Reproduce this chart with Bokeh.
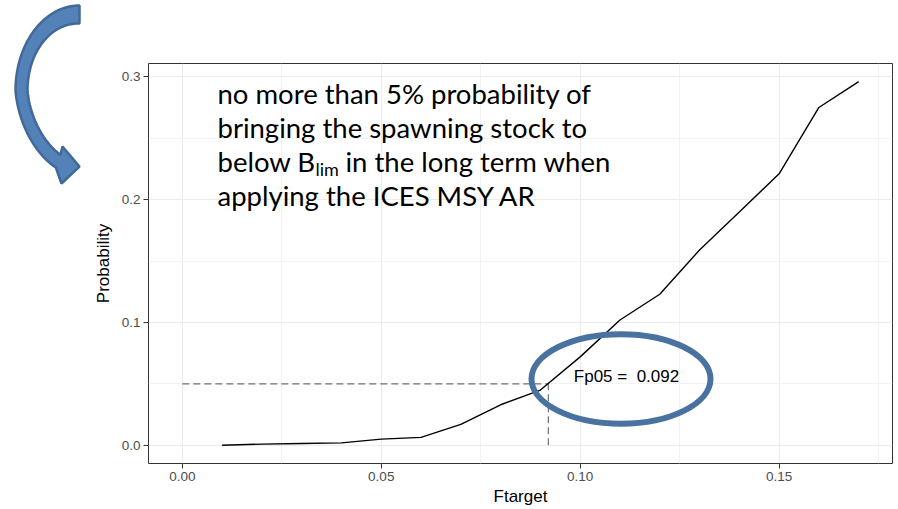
import numpy as np
from bokeh.plotting import figure
from bokeh.layouts import row
from bokeh.models import Range1d, FixedTicker, PrintfTickFormatter, Label
from bokeh.embed import file_html
from bokeh.resources import INLINE

# ---- data ----
ftarget = [0.01, 0.02, 0.03, 0.04, 0.05, 0.06, 0.07, 0.08, 0.09,
           0.10, 0.11, 0.12, 0.13, 0.14, 0.15, 0.16, 0.17]
probability = [0.000, 0.001, 0.0015, 0.002, 0.005, 0.0065, 0.017, 0.033, 0.045,
               0.072, 0.102, 0.123, 0.159, 0.190, 0.221, 0.275, 0.296]
fp05 = 0.092
p_limit = 0.05
x_ticks = [0.00, 0.05, 0.10, 0.15]
y_ticks = [0.0, 0.1, 0.2, 0.3]
fp_label = "Fp05 =\u00a0 0.092"
note_lines = ["no more than 5% probability of",
              "bringing the spawning stock to",
              "below B", "lim", "in the long term when",
              "applying the ICES MSY AR"]

def minors(t):
    step = t[1] - t[0]
    return [v + step / 2 for v in t] + [t[0] - step / 2]

# ---- layout geometry (pixels, page coordinates) ----
H = 508
AW = 90                      # width of the left strip holding the arrow
W = 896 - AW                 # main figure width
FL, FR, FT, FB = 148, 892, 63, 465
x0, x1 = -0.0085, 0.1785
y0, y1 = -0.0148, 0.3108
sx = (FR - FL) / (x1 - x0)
sy = (FB - FT) / (y1 - y0)

def dx(px):
    return x0 + (px - FL) / sx

def dy(py):
    return y1 - (py - FT) / sy

p = figure(width=W, height=H,
           x_range=Range1d(x0, x1), y_range=Range1d(y0, y1),
           output_backend="svg", toolbar_location=None,
           min_border_left=FL - AW, min_border_right=AW + W - FR, min_border_top=FT,
           min_border_bottom=H - FB,
           x_axis_label="Ftarget", y_axis_label="Probability")
p.background_fill_color = "white"
p.border_fill_color = "white"
p.outline_line_color = "#333333"
p.outline_line_width = 1

p.xaxis.ticker = FixedTicker(ticks=x_ticks, minor_ticks=minors(x_ticks))
p.yaxis.ticker = FixedTicker(ticks=y_ticks, minor_ticks=minors(y_ticks))
p.xaxis.formatter = PrintfTickFormatter(format="%.2f")
p.yaxis.formatter = PrintfTickFormatter(format="%.1f")
for ax in (p.xaxis, p.yaxis):
    ax.axis_line_color = None
    ax.major_tick_line_color = "#333333"
    ax.major_tick_out = 5
    ax.major_tick_in = 0
    ax.minor_tick_line_color = None
    ax.major_label_text_font = "Liberation Sans"
    ax.major_label_text_font_size = "13.5px"
    ax.major_label_text_color = "#4d4d4d"
    ax.major_label_standoff = 3
    ax.axis_label_text_font = "Liberation Sans"
    ax.axis_label_text_font_size = "17px"
    ax.axis_label_text_font_style = "normal"
    ax.axis_label_text_color = "black"
p.xaxis.axis_label_standoff = 3
p.yaxis.axis_label_standoff = 6

for g in (p.xgrid, p.ygrid):
    g.grid_line_color = "#ebebeb"
    g.grid_line_width = 1
    g.minor_grid_line_color = "#f2f2f2"
    g.minor_grid_line_width = 1

p.segment(x0=[0, fp05], y0=[p_limit, 0], x1=[fp05, fp05], y1=[p_limit, p_limit],
          line_color="#707070", line_width=1.2, line_dash="7 4")
p.line(ftarget, probability, line_color="black", line_width=1.4)

# highlight ellipse around the Fp05 annotation
p.ellipse(x=[dx(620.5)], y=[dy(380)], width=179 / sx, height=90 / sy,
          fill_color=None, line_color="#4a72a0", line_width=6)

p.add_layout(Label(x=dx(626), y=dy(378), text=fp_label, text_align="center",
                   text_baseline="middle", text_font="Liberation Sans",
                   text_font_size="17px", text_color="black"))

# ---- slide note text ----
fs = "27.5px"
tx = dx(217)
base_px = [93.5, 127.5, 161.5, 195.5]
common = dict(text_font="Lato", text_color="black", text_baseline="alphabetic")
p.add_layout(Label(x=tx, y=dy(base_px[0]), text=note_lines[0], text_font_size=fs, **common))
p.add_layout(Label(x=tx, y=dy(base_px[1]), text=note_lines[1], text_font_size=fs, **common))
p.add_layout(Label(x=tx, y=dy(base_px[2]), text=note_lines[2], text_font_size=fs, **common))
p.add_layout(Label(x=dx(315), y=dy(base_px[2] + 8), text=note_lines[3],
                   text_font_size="18px", **common))
p.add_layout(Label(x=dx(345), y=dy(base_px[2]), text=note_lines[4], text_font_size=fs, **common))
p.add_layout(Label(x=tx, y=dy(base_px[3]), text=note_lines[5], text_font_size=fs, **common))

# ---- decorative curved arrow (left strip, pixel coordinates) ----
a_fig = figure(width=AW, height=H, x_range=Range1d(0, AW), y_range=Range1d(H, 0),
               output_backend="svg", toolbar_location=None,
               x_axis_type=None, y_axis_type=None, min_border=0)
a_fig.frame_align = False
a_fig.outline_line_color = None
a_fig.grid.visible = False
a_fig.background_fill_color = "white"
a_fig.border_fill_color = "white"

cx, cy = 79.0, 90.0
th_e = np.deg2rad(155)
th = np.linspace(0, th_e, 80)
lower = np.clip((th - np.pi / 2) / (th_e - np.pi / 2), 0, 1)
a_out = 64 - 8 * lower
a_in = 52 - 7 * lower
b_in = 67 + 4 * th / th_e
ox = cx - a_out * np.sin(th); oy = cy - 85 * np.cos(th)
ix = cx - a_in * np.sin(th); iy = cy - b_in * np.cos(th)
head_x = [61, 79, 62]
head_y = [183, 166, 146]
a_fig.patch(list(ox) + head_x + list(ix[::-1]), list(oy) + head_y + list(iy[::-1]),
            fill_color="#5282b8", line_color="#41699a", line_width=2.5)

layout = row(a_fig, p)
open("out.html", "w").write(file_html(layout, INLINE))
